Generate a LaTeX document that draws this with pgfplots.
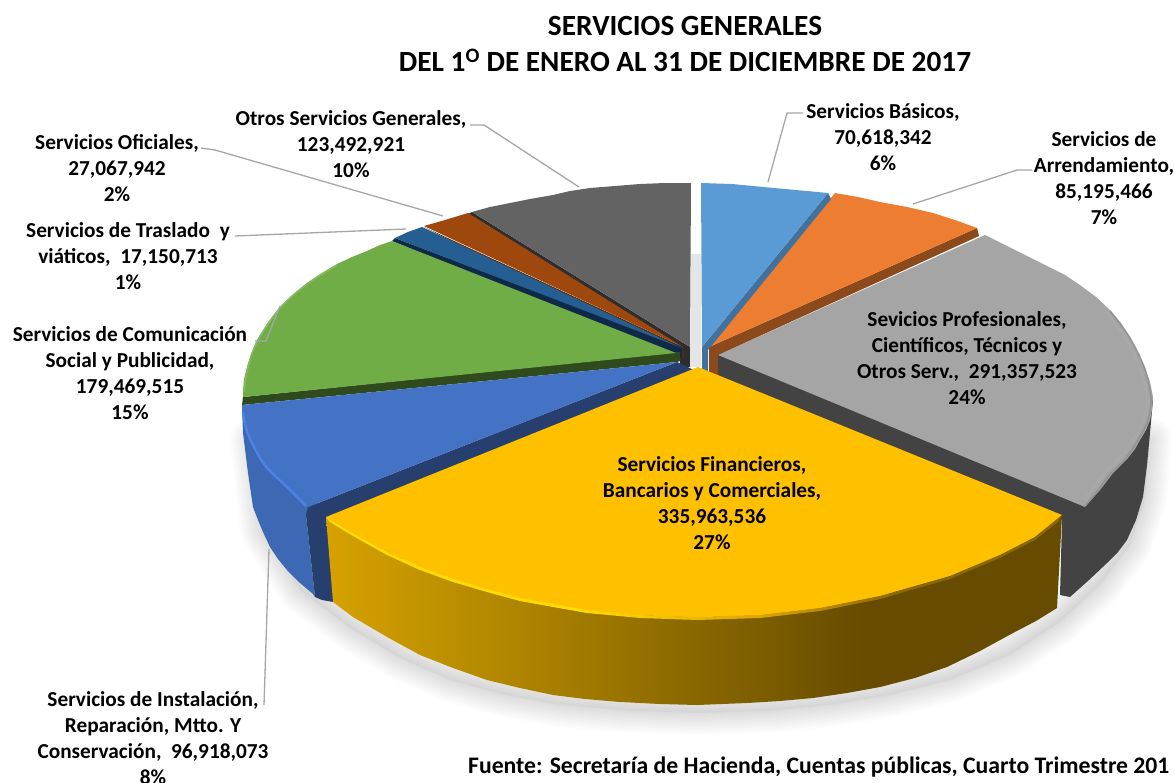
\documentclass[border=0pt]{standalone}
\usepackage{fontspec}
\usepackage{pgfplots}
\usepackage{pgfplotstable}
\pgfplotsset{compat=1.18}
\setmainfont{Carlito}

\definecolor{cB}{HTML}{5B9BD5}\definecolor{cBs}{HTML}{41719C}
\definecolor{cO}{HTML}{ED7D31}\definecolor{cOs}{HTML}{8C4A1C}
\definecolor{cG}{HTML}{A5A5A5}\definecolor{cGs}{HTML}{434343}
\definecolor{cY}{HTML}{FFC000}\definecolor{cYh}{HTML}{FFDC00}
\definecolor{cN}{HTML}{4472C4}\definecolor{cNs}{HTML}{263F6E}\definecolor{cNw}{HTML}{3C68B4}\definecolor{cNh}{HTML}{4C83E4}
\definecolor{cV}{HTML}{70AD47}\definecolor{cVs}{HTML}{2F4A1C}
\definecolor{cT}{HTML}{255E91}\definecolor{cTs}{HTML}{0F2A48}
\definecolor{cC}{HTML}{9E480E}
\definecolor{cD}{HTML}{636363}\definecolor{cDs}{HTML}{2E2E2E}
\definecolor{lead}{HTML}{A6A6A6}
\definecolor{yw1}{HTML}{D6A200}\definecolor{yw2}{HTML}{BE9000}
\definecolor{yw3}{HTML}{8C6A00}\definecolor{yw4}{HTML}{664B00}
\definecolor{yb3}{HTML}{E0A800}\definecolor{yb4}{HTML}{8A6800}
\pgfdeclarehorizontalshading{yellowwall}{100bp}{color(0bp)=(yw1);color(25bp)=(yw1);color(33bp)=(yw2);color(49bp)=(yw3);color(62bp)=(yw4);color(100bp)=(yw4)}
\pgfdeclarehorizontalshading{yellowband}{100bp}{color(0bp)=(cYh);color(25bp)=(cYh);color(42bp)=(cYh);color(54bp)=(yb3);color(64bp)=(yb4);color(100bp)=(yb4)}

\tikzset{
  slice/.style={draw=none},
  leader/.style={draw=lead,line width=1.3pt},
  lab/.style={font=\bfseries\fontsize{21.3}{26}\selectfont,align=center,inner sep=0,text=black},
}

\pgfplotstableread{
x y
700 400
252 440
262 530
300 590
350 628
400 658
450 680
505 695
560 705
630 711
697 713
770 711
830 705
890 695
950 680
1010 655
1060 622
1100 585
1130 545
1145 500
1150 440
700 400
}\shadowtab

\begin{document}
\begin{tikzpicture}[x=1pt,y=1pt]
\useasboundingbox (0,0) rectangle (1175,782);
\clip (0,0) rectangle (1175,782);
\begin{axis}[
  at={(0,0)},anchor=south west,
  width=1175pt,height=782pt,scale only axis,
  xmin=0,xmax=1175,ymin=0,ymax=782,y dir=reverse,
  hide axis,clip=false,
  every axis plot/.append style={no markers},
]
% soft shadow
\addplot[draw=none,fill=black,fill opacity=0.03] table {\shadowtab};
\pgfplotsinvokeforeach{44,40,36,32,28,24,20,16,12,8,4}{
  \addplot[draw=black,draw opacity=0.011,line width=#1pt,line join=round] table {\shadowtab};
}
\addplot[draw=none,fill=black!10] coordinates {(691,254)(701,254)(701,367)(691,367)};

% dark slice, back left
\addplot[draw=none,fill=cDs] coordinates {(472,212)(690,347)(690,367)(680,367)(680,346)(468,214)};
\addplot[slice,fill=cD] coordinates {(690,347)(472,212)(490,207)(510,203)(530,199)(553,195)(570,191)(590,188)(615,186)(640,184)(665,183)(691,183)};
% brown
\addplot[draw=none,fill=cC!60!black] coordinates {(683,347)(684,358)(680,358)(424,227)};
\addplot[slice,fill=cC] coordinates {(683,347)(424,226)(445,220)(468,213)};
% navy
\addplot[draw=none,fill=cTs] coordinates {(682,347)(682,358)(676,358)(392,241)(395,238)};
\addplot[slice,fill=cT] coordinates {(682,348)(395,238)(408,232)(422,227)};
% green
\addplot[draw=none,fill=cVs] coordinates {(676,352)(680,352)(680,361)(677,362)(242,405)(243,397)};
\addplot[slice,fill=cV] coordinates {(676,353)(392,241)(380,245)(367,251)(352,257)(337,264)(322,273)(307,283)(293,295)(280,307)(267,324)(257,340)(251,354)(247,367)(244,379)(243,390)(243,397)};
\addplot[smooth,tension=0.55,draw=cV!85!white,line width=1.6pt] coordinates {(337,265)(307,284)(280,308)(258,340)(248,367)(244,392)};
% blue slice: wall, cut face, top
\addplot[slice,fill=cNw] coordinates {(242,408)(243,433)(248,473)(253,507)(258,520)(263,532)(270,547)(278,559)(287,570)(300,583)(313,594)(315,597)(306,515)(400,420)};
\addplot[draw=none,fill=cNs] coordinates {(677,362)(698,372)(333,602)(322,600)(315,597)(306,515)(308,507)};
\addplot[slice,fill=cN] coordinates {(677,362)(242,405)(242,412)(244,423)(247,433)(254,449)(263,463)(274,476)(287,487)(308,507)};
\addplot[smooth,tension=0.55,draw=cNh,line width=2.4pt] coordinates {(243,412)(248,434)(264,464)(288,488)(306,506)};
% grey slice
\addplot[draw=none,fill=cGs] coordinates {(718,355)(718,380)(1062,520)(1060,595)(1070,597)(1089,580)(1107,563)(1118,552)(1127,540)(1136,520)(1143,497)(1147,465)(1150,433)(1153,400)};
\addplot[slice,fill=cG] coordinates {(718,355)(985,235)(1013,249)(1047,266)(1065,275)(1080,285)(1096,297)(1110,310)(1121,323)(1130,337)(1138,352)(1145,367)(1150,382)(1153,397)(1152,410)(1150,420)(1146,430)(1140,440)(1135,449)(1128,458)(1121,465)(1113,473)(1100,490)(1085,507)};
\addplot[smooth,tension=0.55,draw=black!45,line width=1.6pt,draw opacity=0.7] coordinates {(1110,311)(1130,338)(1144,367)(1151,397)(1148,420)(1138,440)(1126,458)(1111,473)(1098,490)(1086,505)};
\addplot[smooth,tension=0.55,draw=black!30,line width=3pt,draw opacity=0.25] coordinates {(1106,312)(1126,339)(1140,368)(1147,397)(1144,419)(1134,438)(1122,456)(1107,471)(1094,487)(1084,500)};
% orange
\addplot[draw=none,fill=cOs] coordinates {(977,228)(979,236)(718,355)(718,380)(709,380)(709,347)};
\addplot[slice,fill=cO] coordinates {(709,347)(835,193)(858,197)(880,202)(907,207)(933,213)(955,220)(977,228)};
% light blue
\addplot[draw=none,fill=cBs] coordinates {(828,193)(831,199)(708,350)(708,378)(702,378)(702,347)};
\addplot[slice,fill=cB] coordinates {(702,347)(701,183)(732,184)(763,187)(796,190)(828,193)};
% yellow slice
\addplot[slice,shade,shading=yellowwall] coordinates {(326,517)(353,533)(387,552)(420,567)(453,579)(487,589)(520,598)(553,604)(587,610)(640,615)(697,617)(760,615)(820,608)(880,596)(950,576)(1000,555)(1035,537)(1062,515)(1057,608)(1036,621)(1013,633)(980,651)(947,667)(915,678)(880,687)(847,693)(813,698)(780,701)(747,703)(697,705)(660,704)(620,702)(585,699)(553,695)(520,688)(487,680)(453,668)(420,655)(387,637)(353,617)(333,602)};
\addplot[slice,fill=cY] coordinates {(698,367)(326,517)(353,533)(387,552)(420,567)(453,579)(487,589)(520,598)(553,604)(587,610)(640,615)(697,617)(760,615)(820,608)(880,596)(950,576)(1000,555)(1035,537)(1062,515)};
\addplot[slice,shade,shading=yellowband] coordinates {(326,517)(353,533)(387,552)(420,567)(453,579)(487,589)(520,598)(553,604)(587,610)(640,615)(697,617)(760,615)(820,608)(880,596)(950,576)(1000,555)(1035,537)(1062,515)(1058,522)(1035,540)(1000,558)(950,579)(880,599)(820,611)(760,618)(697,620)(640,618)(587,613)(553,607)(520,601)(487,592)(453,582)(420,570)(387,555)(353,536)(330,522)};

% leader lines
\addplot[leader] coordinates {(803,113)(787,113)(768,182)};
\addplot[leader] coordinates {(1032,170)(1017,170)(913,204)};
\addplot[leader] coordinates {(470,125)(484,125)(579,187)};
\addplot[leader] coordinates {(201,148)(215,150)(443,216)};
\addplot[leader] coordinates {(235,236)(406,229)};
\addplot[leader] coordinates {(255,341)(266,341)(280,306)};
\addplot[leader] coordinates {(269,549)(264,705)};

% title and labels
\node[font=\bfseries\fontsize{29.3}{36}\selectfont,align=center,inner sep=0] at (axis cs:685,44)
  {SERVICIOS GENERALES\\DEL 1\textsuperscript{O} DE ENERO AL 31 DE DICIEMBRE DE 2017};
\node[lab] at (axis cs:883,137) {Servicios Básicos,\\70,618,342\\6\%};
\node[lab] at (axis cs:1104,178) {Servicios de\\Arrendamiento,\\85,195,466\\7\%};
\node[lab] at (axis cs:967,358) {Sevicios Profesionales,\\Científicos, Técnicos y\\Otros Serv.,~~291,357,523\\24\%};
\node[lab] at (axis cs:712,503) {Servicios Financieros,\\Bancarios y Comerciales,\\335,963,536\\27\%};
\node[lab] at (axis cs:153,738) {Servicios de Instalación,\\Reparación, Mtto. Y\\Conservación,~~96,918,073\\8\%};
\node[lab] at (axis cs:130,373) {Servicios de Comunicación\\Social y Publicidad,\\179,469,515\\15\%};
\node[lab] at (axis cs:128,256) {Servicios de Traslado~~y\\viáticos,~~17,150,713\\1\%};
\node[lab] at (axis cs:117,168) {Servicios Oficiales,\\27,067,942\\2\%};
\node[lab] at (axis cs:351,144) {Otros Servicios Generales,\\123,492,921\\10\%};
\node[lab,font=\bfseries\fontsize{23.7}{26}\selectfont,anchor=west] at (axis cs:468,767) {Fuente: Secretaría de Hacienda, Cuentas públicas, Cuarto Trimestre 201};
\end{axis}
\end{tikzpicture}
\end{document}
